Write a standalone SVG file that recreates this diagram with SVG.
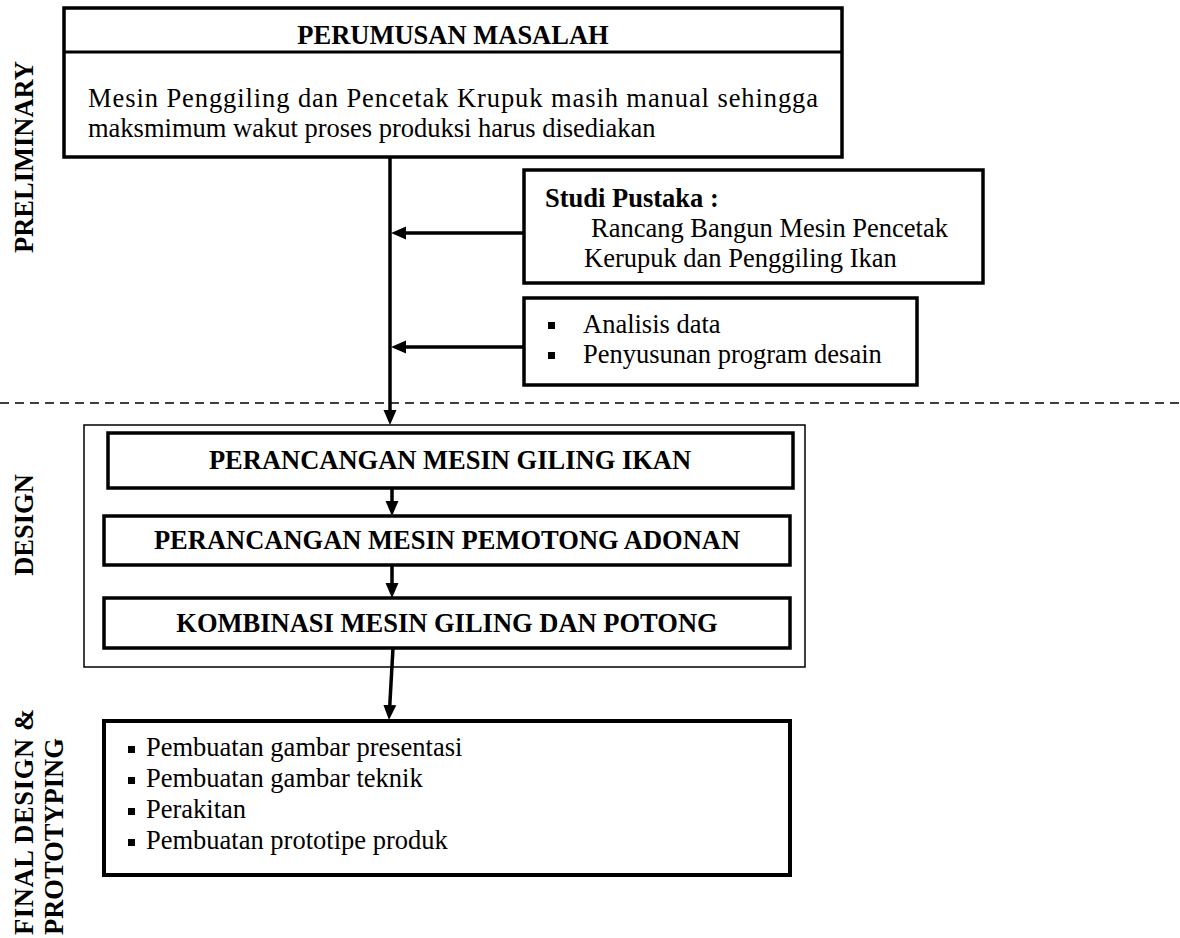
<svg xmlns="http://www.w3.org/2000/svg" width="1180" height="938" viewBox="0 0 1180 938">
<defs>
<style>
.t{font-family:"Liberation Serif","Times New Roman",serif;font-size:26.5px;fill:#000}
.b{font-weight:bold}
.box{fill:#fff;stroke:#000;stroke-width:3.5}
.thin{fill:none;stroke:#000;stroke-width:1.5}
.ln{fill:none;stroke:#000;stroke-width:3.5}
.dash{fill:none;stroke:#000;stroke-width:1.5;stroke-dasharray:9 6}
</style>
<marker id="ah" markerUnits="userSpaceOnUse" markerWidth="16" markerHeight="14" refX="0" refY="6.5" orient="auto" viewBox="0 0 16 13">
<path d="M0,0 L15,6.5 L0,13 Z" fill="#000"/>
</marker>
</defs>
<rect width="1180" height="938" fill="#fff"/>

<g id="labels">
<text class="t b" transform="translate(33,157) rotate(-90)" text-anchor="middle">PRELIMINARY</text>
<text class="t b" transform="translate(33,525) rotate(-90)" text-anchor="middle">DESIGN</text>
<text class="t b" transform="translate(33,935) rotate(-90)" textLength="226" lengthAdjust="spacing">FINAL DESIGN &amp;</text>
<text class="t b" transform="translate(63,935) rotate(-90)">PROTOTYPING</text>
</g>

<line class="dash" x1="0" y1="403" x2="1180" y2="403"/>

<g id="perumusan">
<rect class="box" x="64" y="8" width="778" height="149"/>
<line class="ln" x1="64" y1="52" x2="842" y2="52" style="stroke-width:3"/>
<text class="t b" x="453" y="44" text-anchor="middle">PERUMUSAN MASALAH</text>
<text class="t" x="88" y="107" textLength="730" lengthAdjust="spacing">Mesin Penggiling dan Pencetak Krupuk masih manual sehingga</text>
<text class="t" x="88" y="137">maksmimum wakut proses produksi harus disediakan</text>
</g>

<g id="studi">
<rect class="box" x="524" y="170" width="459" height="113"/>
<text class="t b" x="545" y="207">Studi Pustaka :</text>
<text class="t" x="591" y="237">Rancang Bangun Mesin Pencetak</text>
<text class="t" x="584" y="267">Kerupuk dan Penggiling Ikan</text>
</g>

<g id="analisis">
<rect class="box" x="524" y="298" width="393" height="87"/>
<rect x="548" y="322" width="7" height="7" fill="#000"/>
<text class="t" x="583" y="333">Analisis data</text>
<rect x="548" y="352" width="7" height="7" fill="#000"/>
<text class="t" x="583" y="363">Penyusunan program desain</text>
</g>

<g id="design">
<rect class="thin" x="84" y="425" width="721" height="242"/>
</g>

<g id="giling">
<rect class="box" x="108" y="433" width="685" height="55"/>
<text class="t b" x="450" y="469" text-anchor="middle">PERANCANGAN MESIN GILING IKAN</text>
</g>

<g id="pemotong">
<rect class="box" x="104" y="516" width="686" height="49"/>
<text class="t b" x="447" y="549" text-anchor="middle">PERANCANGAN MESIN PEMOTONG ADONAN</text>
</g>

<g id="kombinasi">
<rect class="box" x="104" y="598" width="686" height="50"/>
<text class="t b" x="447" y="632" text-anchor="middle">KOMBINASI MESIN GILING DAN POTONG</text>
</g>

<g id="final">
<rect class="box" x="104" y="721" width="686" height="154" style="stroke-width:4"/>
<rect x="128" y="746" width="7" height="7" fill="#000"/>
<text class="t" x="146" y="756">Pembuatan gambar presentasi</text>
<rect x="128" y="777" width="7" height="7" fill="#000"/>
<text class="t" x="146" y="787">Pembuatan gambar teknik</text>
<rect x="128" y="808" width="7" height="7" fill="#000"/>
<text class="t" x="146" y="818">Perakitan</text>
<rect x="128" y="839" width="7" height="7" fill="#000"/>
<text class="t" x="146" y="849">Pembuatan prototipe produk</text>
</g>

<g id="connectors">
<line class="ln" x1="390" y1="157" x2="390" y2="410" marker-end="url(#ah)"/>
<line class="ln" x1="524" y1="233" x2="406" y2="233" marker-end="url(#ah)"/>
<line class="ln" x1="524" y1="347" x2="406" y2="347" marker-end="url(#ah)"/>
<line class="ln" x1="392" y1="488" x2="392" y2="501" marker-end="url(#ah)"/>
<line class="ln" x1="392" y1="565" x2="392" y2="583" marker-end="url(#ah)"/>
<path class="ln" d="M393,648 L389.8,705" marker-end="url(#ah)"/>
</g>
</svg>
